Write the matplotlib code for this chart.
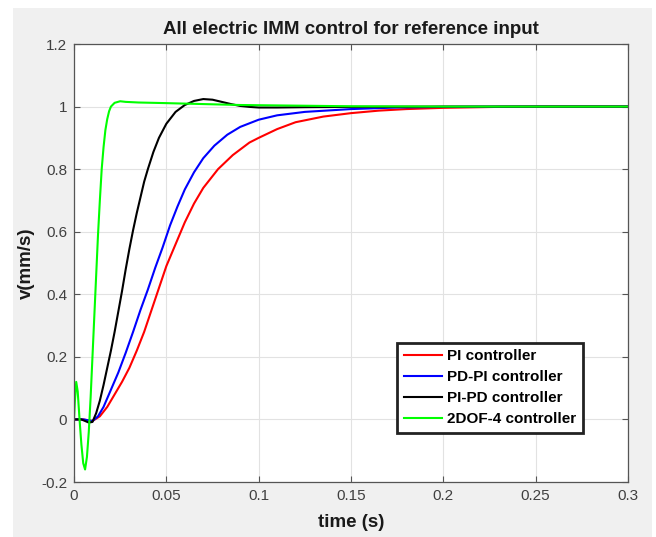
import matplotlib.pyplot as plt
from matplotlib.patches import Rectangle

# PI controller (red)
t_pi = [0, 0.005, 0.010, 0.014, 0.018, 0.022, 0.026, 0.030, 0.034, 0.038, 0.042,
        0.046, 0.050, 0.055, 0.060, 0.065, 0.070, 0.078, 0.086, 0.095, 0.100,
        0.110, 0.120, 0.135, 0.150, 0.165, 0.180, 0.200, 0.230, 0.260, 0.300]
v_pi = [0, 0, -0.005, 0.01, 0.04, 0.08, 0.12, 0.165, 0.22, 0.28, 0.35,
        0.42, 0.49, 0.56, 0.63, 0.69, 0.74, 0.80, 0.845, 0.885, 0.90,
        0.928, 0.950, 0.968, 0.979, 0.987, 0.992, 0.996, 0.999, 1.0, 1.0]

# PD-PI controller (blue)
t_pdpi = [0, 0.005, 0.010, 0.013, 0.016, 0.020, 0.024, 0.028, 0.032, 0.036, 0.040,
          0.044, 0.048, 0.052, 0.056, 0.060, 0.065, 0.070, 0.076, 0.083, 0.090,
          0.100, 0.110, 0.125, 0.150, 0.175, 0.200, 0.250, 0.300]
v_pdpi = [0, 0, -0.005, 0.01, 0.04, 0.095, 0.15, 0.213, 0.28, 0.35, 0.415,
          0.485, 0.55, 0.62, 0.68, 0.735, 0.79, 0.835, 0.875, 0.91, 0.935,
          0.958, 0.972, 0.983, 0.992, 0.997, 0.999, 1.0, 1.0]

# PI-PD controller (black)
t_pipd = [0, 0.004, 0.008, 0.010, 0.012, 0.014, 0.016, 0.018, 0.020, 0.022, 0.024,
          0.026, 0.028, 0.030, 0.032, 0.034, 0.036, 0.038, 0.040, 0.043, 0.046,
          0.050, 0.055, 0.060, 0.065, 0.070, 0.075, 0.080, 0.085, 0.090, 0.095,
          0.100, 0.110, 0.125, 0.150, 0.200, 0.300]
v_pipd = [0, 0, -0.01, -0.008, 0.02, 0.06, 0.11, 0.165, 0.22, 0.28, 0.345,
          0.41, 0.48, 0.545, 0.605, 0.66, 0.71, 0.76, 0.80, 0.855, 0.90,
          0.945, 0.983, 1.005, 1.018, 1.024, 1.022, 1.015, 1.008, 1.002, 0.999,
          0.997, 0.997, 0.998, 0.999, 1.0, 1.0]

# 2DOF-4 controller (green)
t_2dof = [0, 0.0005, 0.0012, 0.002, 0.003, 0.004, 0.005, 0.006, 0.007, 0.008, 0.009,
          0.010, 0.011, 0.012, 0.013, 0.014, 0.015, 0.016, 0.017, 0.018, 0.019,
          0.020, 0.022, 0.025, 0.028, 0.035, 0.050, 0.070, 0.090, 0.120, 0.150,
          0.200, 0.300]
v_2dof = [0, 0.06, 0.12, 0.09, 0.0, -0.08, -0.14, -0.16, -0.12, -0.04, 0.07,
          0.20, 0.33, 0.46, 0.59, 0.70, 0.80, 0.87, 0.925, 0.96, 0.985,
          1.0, 1.012, 1.017, 1.015, 1.013, 1.011, 1.008, 1.005, 1.003, 1.001,
          1.0, 1.0]

labels = ["PI controller", "PD-PI controller", "PI-PD controller", "2DOF-4 controller"]

plt.rcParams['font.family'] = ['Liberation Sans', 'DejaVu Sans']

fig = plt.figure(figsize=(6.56, 5.37), dpi=100, facecolor='white')
# grey MATLAB-like figure panel with a thin white margin
fig.patches.append(Rectangle((13 / 656, 0), (652 - 13) / 656, (537 - 8) / 537,
                             transform=fig.transFigure, facecolor='#f0f0f0',
                             edgecolor='none', zorder=-10))

ax = fig.add_axes([74 / 656, 1 - 482 / 537, (628 - 74) / 656, (482 - 44) / 537])
ax.set_facecolor('white')

ax.plot(t_pi, v_pi, color='#ff0000', lw=1.5, label=labels[0])
ax.plot(t_pdpi, v_pdpi, color='#0000ff', lw=1.5, label=labels[1])
ax.plot(t_pipd, v_pipd, color='black', lw=1.5, label=labels[2])
ax.plot(t_2dof, v_2dof, color='#00ff00', lw=1.5, label=labels[3])

ax.set_xlim(0, 0.3)
ax.set_ylim(-0.2, 1.2)
ax.set_xticks([0, 0.05, 0.1, 0.15, 0.2, 0.25, 0.3])
ax.set_xticklabels(['0', '0.05', '0.1', '0.15', '0.2', '0.25', '0.3'])
ax.set_yticks([-0.2, 0, 0.2, 0.4, 0.6, 0.8, 1, 1.2])
ax.set_yticklabels(['-0.2', '0', '0.2', '0.4', '0.6', '0.8', '1', '1.2'])
ax.grid(True, color='#e2e2e2', lw=0.8)
ax.set_axisbelow(True)
ax.tick_params(direction='in', top=True, right=True, length=4, width=0.8,
               colors='#555555', labelsize=11, labelcolor='#404040', pad=5)
for s in ax.spines.values():
    s.set_color('#555555')
    s.set_linewidth(0.9)

ax.set_title("All electric IMM control for reference input", fontsize=13.5,
             fontweight='bold', color='#1a1a1a', pad=7)
ax.set_xlabel("time (s)", fontsize=13.5, fontweight='bold', color='#1a1a1a', labelpad=8)
ax.set_ylabel("v(mm/s)", fontsize=13.5, fontweight='bold', color='#1a1a1a', labelpad=4)

leg = ax.legend(loc='lower right', bbox_to_anchor=(0.919, 0.112), borderaxespad=0,
                fancybox=False, framealpha=1, edgecolor='#222222',
                prop={'weight': 'bold', 'size': 11}, handlelength=2.5,
                labelspacing=0.45, handletextpad=0.35, borderpad=0.45)
leg.get_frame().set_linewidth(2)

fig.savefig('out.png', dpi=100, facecolor=fig.get_facecolor())
